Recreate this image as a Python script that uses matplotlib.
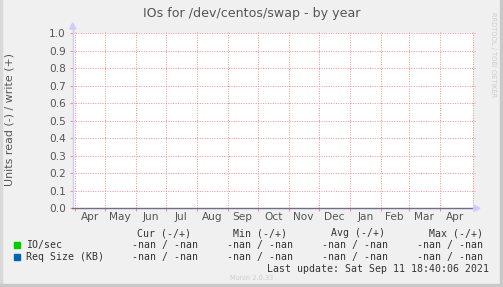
import datetime as dt
import numpy as np
import matplotlib
matplotlib.use("Agg")
import matplotlib.pyplot as plt
from matplotlib.patches import Rectangle, Polygon

W, H = 503, 287

title = "IOs for /dev/centos/swap - by year"
y_label = "Units read (-) / write (+)"
y_ticks = [0.0, 0.1, 0.2, 0.3, 0.4, 0.5, 0.6, 0.7, 0.8, 0.9, 1.0]
month_starts = [dt.datetime(2020, m, 1) for m in range(4, 13)] + \
               [dt.datetime(2021, m, 1) for m in range(1, 6)]
month_labels = ["Apr", "May", "Jun", "Jul", "Aug", "Sep", "Oct", "Nov",
                "Dec", "Jan", "Feb", "Mar", "Apr"]
x_start = dt.datetime(2020, 3, 30, 7)
x_days = 400

series_names = ["IO/sec", "Req Size (KB)"]
series_colors = ["#00cc00", "#0066b3"]
# every value in the graph is nan
series_values = [[np.nan, np.nan], [np.nan, np.nan]]
col_headers = ["Cur (-/+)", "Min (-/+)", "Avg (-/+)", "Max (-/+)"]
cells = [["-nan / -nan"] * 4, ["-nan / -nan"] * 4]
last_update = "Last update: Sat Sep 11 18:40:06 2021"
version = "Munin 2.0.33"


def fx(px):
    return px / W


def fy(py):
    return 1 - py / H


fig = plt.figure(figsize=(W / 100, H / 100), dpi=100, facecolor="#f0f0f0")

# frame edges
fig.patches.append(Rectangle((0, 0), fx(2), 1, transform=fig.transFigure,
                             color="#d8d8d8", zorder=0))
fig.patches.append(Rectangle((fx(W - 3), 0), fx(3), 1, transform=fig.transFigure,
                             color="#c8c8c8", zorder=0))
fig.patches.append(Rectangle((0, 0), 1, fy(H - 3), transform=fig.transFigure,
                             color="#c8c8c8", zorder=0))

left, right, top, bottom = 73, 473, 33.3, 208.3
ax = fig.add_axes([fx(left), fy(bottom), fx(right - left), (bottom - top) / H])
ax.set_facecolor("white")

x_end = x_start + dt.timedelta(days=x_days)
x_pts = [x_start, x_end]
for vals, c in zip(series_values, series_colors):
    ax.plot(x_pts, vals, color=c)

ax.set_xlim(x_start, x_end)
ax.set_ylim(0, 1)

for s in ax.spines.values():
    s.set_visible(False)

grid_kw = dict(color="#f09090", lw=0.7, dashes=(1, 1.5))
ax.set_yticks(y_ticks)
ax.set_yticklabels([f"{v:.1f}" for v in y_ticks])
for v in y_ticks[1:]:
    ax.axhline(v, xmin=0, xmax=1.005, clip_on=False, **grid_kw)

ax.set_xticks(month_starts[:-1])
ax.set_xticklabels([])
mids = [a + (b - a) / 2 for a, b in zip(month_starts[:-1], month_starts[1:])]
ax.set_xticks(mids, minor=True)
ax.set_xticklabels(month_labels, minor=True)
for d in month_starts[:-1]:
    ax.axvline(d, ymin=0, ymax=1.015, clip_on=False, **grid_kw)
ax.axvline(x_end, ymin=0, ymax=1.015, clip_on=False, **grid_kw)

ax.tick_params(axis="y", length=2, color="#f09090", pad=3,
               labelsize=7.6, labelcolor="#555555")
ax.tick_params(axis="x", which="major", length=2, color="#f09090")
ax.tick_params(axis="x", which="minor", length=0, pad=3,
               labelsize=7.6, labelcolor="#555555")

# axes lines with arrows
ax.axvline(x_start, ymin=0, ymax=1.03, color="#ccccff", lw=1, clip_on=False)
ax.axhline(0, xmin=-0.003, xmax=1.0, color="#6e6e88", lw=1, clip_on=False)
ax.axhline(0, xmin=1.0, xmax=1.01, color="#ccccff", lw=1, clip_on=False)
fig.patches.append(Polygon([(fx(69.7), fy(29)), (fx(75.7), fy(29)), (fx(72.7), fy(23))],
                           closed=True, transform=fig.transFigure, color="#ccccff"))
fig.patches.append(Polygon([(fx(474), fy(205.3)), (fx(474), fy(211.3)), (fx(480), fy(208.3))],
                           closed=True, transform=fig.transFigure, color="#ccccff"))

fig.text(fx(251.5), fy(14), title, ha="center", va="center",
         fontsize=9.1, color="#555555")
fig.text(fx(10), fy(120), y_label, rotation=90, ha="center", va="center",
         fontsize=7.9, color="#555555")
fig.text(fx(493), fy(55), "RRDTOOL / TOBI OETIKER", rotation=270,
         ha="center", va="center", fontsize=4.8, color="#cccccc")

mono = dict(family="DejaVu Sans Mono", fontsize=7.15, color="#333333", va="center")
header_x = [137, 233, 331, 429]
cell_x = [131.7, 226.7, 321.7, 416.7]
for hx, h in zip(header_x, col_headers):
    fig.text(fx(hx), fy(233), h, **mono)
for i, (name, color) in enumerate(zip(series_names, series_colors)):
    row_y = 245 + 12 * i
    fig.patches.append(Rectangle((fx(14), fy(row_y + 3)), fx(6), 6 / H,
                                 transform=fig.transFigure, color=color))
    fig.text(fx(26), fy(row_y), name, **mono)
    for cx, c in zip(cell_x, cells[i]):
        fig.text(fx(cx), fy(row_y), c, **mono)
fig.text(fx(489), fy(269), last_update, ha="right", **mono)
fig.text(fx(251.5), fy(277.5), version, ha="center", va="center",
         fontsize=4.8, color="#cccccc")

fig.savefig("out.png", dpi=100, facecolor=fig.get_facecolor())
